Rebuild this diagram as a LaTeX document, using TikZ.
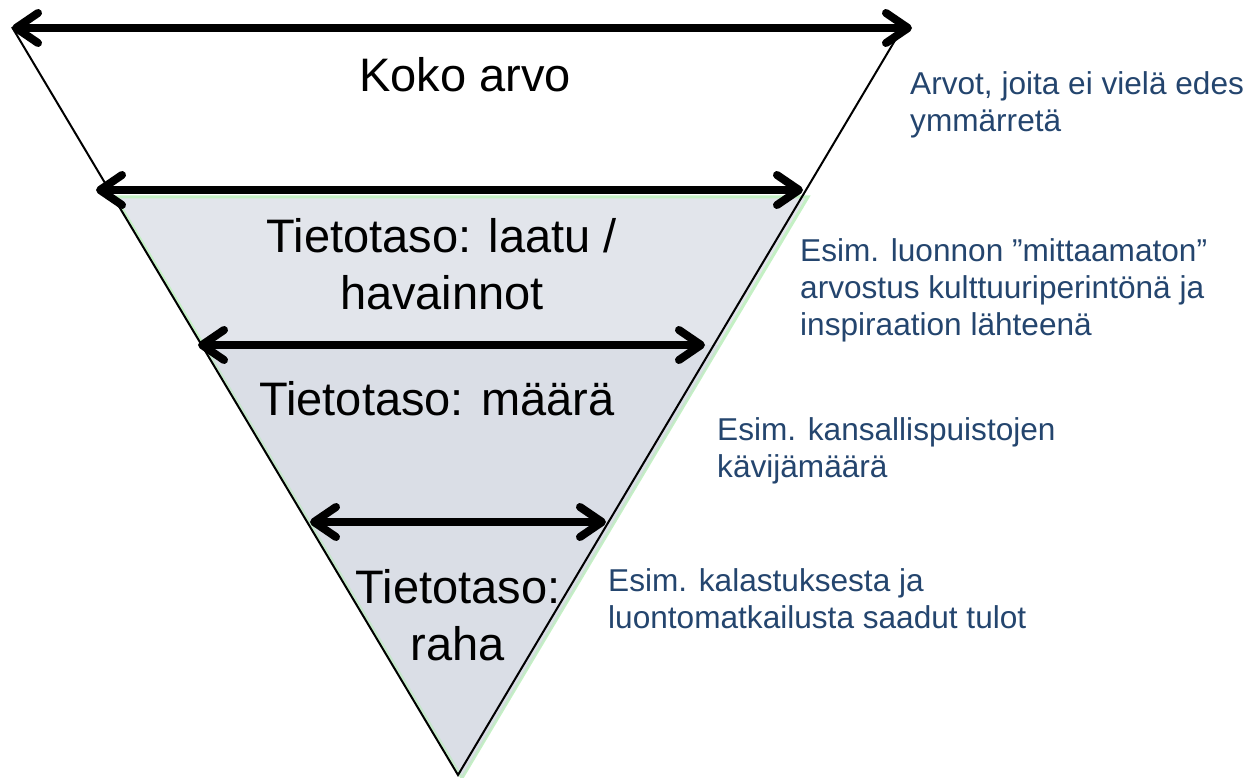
\documentclass[tikz,border=0pt]{standalone}
\usepackage{fontspec}
\setmainfont{Liberation Sans}
\usetikzlibrary{arrows.meta}
\definecolor{notecol}{RGB}{36,69,110}
\definecolor{dotfill}{RGB}{226,229,235}
\definecolor{dotdeep}{RGB}{204,210,222}
\definecolor{rimgreen}{RGB}{196,240,196}
\tikzset{
  span/.style={line width=8pt,
    {Straight Barb[round,length=22pt,width=30pt]}-{Straight Barb[round,length=22pt,width=30pt]}},
  level/.style={font=\fontsize{47}{57}\selectfont, align=center, anchor=base, inner sep=0pt},
  note/.style={font=\fontsize{31.6}{37}\selectfont, text=notecol, align=left, anchor=base west, inner sep=0pt},
}
\begin{document}
\begin{tikzpicture}[x=1pt,y=-1pt]
  \useasboundingbox (0,0) rectangle (1251,778);
  % shaded wedge
  \coordinate (w1) at (115,197);
  \coordinate (w2) at (808,197);
  \coordinate (w0) at (462,778);
  \coordinate (v1) at (203,345);
  \coordinate (v2) at (720,345);
  \fill[dotfill, draw=rimgreen, line width=3pt] (w1) -- (w2) -- (w0) -- cycle;
  \fill[dotdeep, opacity=0.35] (v1) -- (v2) -- (w0) -- cycle;
  % outline
  \coordinate (t1) at (12,27);
  \coordinate (t2) at (900,32);
  \coordinate (tip) at (458,775);
  \draw[line width=2pt] (t1) -- (tip) -- (t2);
  % spans
  \coordinate (a1l) at (12,28);   \coordinate (a1r) at (912,28);
  \coordinate (a2l) at (96,190);  \coordinate (a2r) at (803,190);
  \coordinate (a3l) at (198,345); \coordinate (a3r) at (705,345);
  \coordinate (a4l) at (310,522); \coordinate (a4r) at (606,522);
  \draw[span] (a1l) -- (a1r);
  \draw[span] (a2l) -- (a2r);
  \draw[span] (a3l) -- (a3r);
  \draw[span] (a4l) -- (a4r);
  % levels (base = last line)
  \node[level] (koko) at (465,92) {Koko arvo};
  \node[level] (laatu) at (442,309) {Tietotaso: laatu /\\havainnot};
  \node[level] (maara) at (437,415) {Tietotaso: määrä};
  \node[level] (raha) at (458,660) {Tietotaso:\\raha};
  % notes
  \node[note] (n1) at (910,132) {Arvot, joita ei vielä edes\\ymmärretä};
  \node[note] (n2) at (800,335) {Esim. luonnon ”mittaamaton”\\arvostus kulttuuriperintönä ja\\inspiraation lähteenä};
  \node[note] (n3) at (717,477) {Esim. kansallispuistojen\\kävijämäärä};
  \node[note] (n4) at (608,628) {Esim. kalastuksesta ja\\luontomatkailusta saadut tulot};
\end{tikzpicture}
\end{document}
